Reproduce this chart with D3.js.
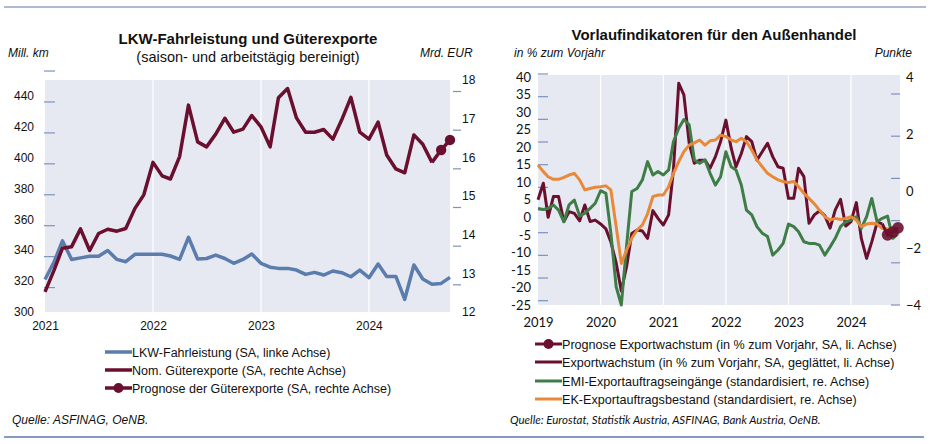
<!DOCTYPE html>
<html><head><meta charset="utf-8">
<script src="https://cdn.jsdelivr.net/npm/d3@7"></script>
<style>
html,body{margin:0;padding:0;background:#fff;}
svg{display:block;}
</style></head>
<body>
<svg id="c" width="930" height="444"></svg>
<script>
// ---------- Left chart data ----------
const leftStart = [2021, 0];           // Jan 2021, monthly
const leftYears = ["2021","2022","2023","2024"];
const leftTicksKm = [300,320,340,360,380,400,420,440];
const leftTicksEur = [12,13,14,15,16,17,18];
const truckKm = [321,332.5,346,334,335,336,336,339.7,334,332.5,337.3,337.3,337.3,337.3,336.2,334,348.3,334.2,334.6,336.8,334.6,331.5,334,337.5,331.5,329,328.2,328.2,327.1,324.3,325.6,323.9,326.5,325.4,322.8,327.1,322.2,331,323,323,308.2,330.4,321.3,317.9,318.5,322.4];
const goodsExports = [12.52,13.09,13.65,13.69,14.15,13.59,14.03,14.14,14.09,14.16,14.68,15.03,15.87,15.52,15.44,16.02,17.35,16.40,16.27,16.60,17.01,16.65,16.73,17.08,16.79,16.27,17.54,17.78,17.02,16.65,16.65,16.72,16.47,16.97,17.55,16.65,16.47,16.91,16.06,15.70,15.60,16.58,16.34,15.87];
const goodsForecast = [16.19,16.45];   // Sep, Oct 2024
const leftLegend = ["LKW-Fahrleistung (SA, linke Achse)","Nom. Güterexporte (SA, rechte Achse)","Prognose der Güterexporte (SA, rechte Achse)"];

// ---------- Right chart data ----------
const rightStart = [2019, 0];          // Jan 2019, monthly
const rightYears = ["2019","2020","2021","2022","2023","2024"];
const rightTicksPct = [40,35,30,25,20,15,10,5,0,-5,-10,-15,-20,-25];
const rightTicksPts = [4,2,0,-2,-4];
const exportGrowth = [5,9.7,0,5.9,5.9,-1.2,1.6,1.1,-1.0,3.5,-1.2,-0.8,-1.9,-3.3,-7,-13,-21,-14,-4.6,-3.6,-3.9,-6,1.9,-0.3,-2.2,0.7,13.5,38.2,34.9,21.1,15.4,16.3,16.3,14,17.3,21.6,27.7,19.7,14.4,18.2,23,21.6,16.3,18.7,21.1,17.3,14.4,14.0,5.4,5.4,14,11.6,-1.7,0.7,1.8,0.5,-3.1,2.1,5.1,-2.5,-1.2,4.2,-6,-11.7,-7,-1.5,-1.8];
const exportForecast = [-5,-4.2,-3];   // Aug–Oct 2024
const emiOrders = [-0.61,-0.65,-0.61,-0.49,-0.67,-1.08,-0.49,-0.32,-0.88,-0.78,-0.61,-0.43,0.01,-0.08,-1.48,-3.36,-4.0,-1.9,-0.02,0.09,0.39,1.03,0.56,0.68,0.56,0.74,1.73,2.20,2.51,2.32,1.09,0.97,1.09,0.62,0.21,0.5,1.38,0.85,0.74,0.21,-0.67,-0.84,-1.25,-1.48,-1.6,-2.25,-2.07,-1.84,-1.16,-1.25,-1.43,-1.78,-1.84,-1.84,-1.9,-2.25,-1.96,-1.66,-1.25,-1.08,-1.02,-0.9,-1.31,-0.9,-0.26,-1.08,-0.96,-0.88,-1.66,-1.5];
const ekOrders = [0.91,0.68,0.50,0.41,0.41,0.48,0.56,0.62,0.39,0.04,0.09,0.13,0.15,0.18,0.04,-1.25,-2.54,-2.07,-1.66,-1.37,-1.19,-0.8,-0.20,-0.14,-0.14,0.15,0.62,1.03,1.38,1.61,1.69,1.79,1.61,1.76,1.79,1.96,1.91,1.79,1.73,1.85,1.73,1.44,1.09,0.85,0.62,0.50,0.39,0.33,0.30,0.33,0.15,-0.08,-0.26,-0.45,-0.67,-0.90,-1.02,-0.96,-1.0,-0.96,-0.90,-1.02,-1.25,-1.16,-1.13,-1.16,-1.31,-1.33,-1.43,-1.51];
const rightLegend = ["Prognose Exportwachstum (in % zum Vorjahr, SA, li. Achse)","Exportwachstum (in % zum Vorjahr, SA, geglättet, li. Achse)","EMI-Exportauftragseingänge (standardisiert, re. Achse)","EK-Exportauftragsbestand (standardisiert, re. Achse)"];

// ---------- Styles ----------
const C = {bg:"#E6E9F2", blue:"#5A7DAD", red:"#6B0F2E", green:"#3E7D46", orange:"#E8893A", dash:"#7D93BC", rule:"#5D79A6", text:"#111"};
const arial = "'Liberation Sans', Arial, sans-serif";
const cal = "Lato, 'Liberation Sans', sans-serif";

const svg = d3.select("#c");
const month = (start, i) => new Date(start[0], start[1] + i, 1);

// rules
svg.append("line").attr("x1",4).attr("x2",926).attr("y1",7).attr("y2",7).attr("stroke",C.rule).attr("stroke-width",1.2);
svg.append("line").attr("x1",4).attr("x2",924).attr("y1",437).attr("y2",437).attr("stroke",C.rule).attr("stroke-width",1.5);

// ================= LEFT CHART =================
{
  const L = {x0:45, x1:450, y0:80, y1:312};
  const x = d3.scaleTime().domain([month(leftStart,0), month(leftStart,45)]).range([L.x0, L.x1]);
  const yL = d3.scaleLinear().domain([300,450]).range([L.y1, L.y0]);
  const yR = d3.scaleLinear().domain([12,18]).range([L.y1, L.y0]);
  const g = svg.append("g");
  g.append("rect").attr("x",L.x0).attr("y",L.y0).attr("width",L.x1-L.x0).attr("height",L.y1-L.y0).attr("fill",C.bg);
  leftYears.slice(1).forEach(yr => {
    const xx = x(new Date(+yr,0,1));
    g.append("line").attr("x1",xx).attr("x2",xx).attr("y1",L.y0).attr("y2",L.y1).attr("stroke","#fff").attr("stroke-width",1.2);
  });
  g.append("text").attr("x",248).attr("y",44).attr("text-anchor","middle").attr("font-family",arial).attr("font-weight","bold").attr("font-size",15).attr("fill",C.text).text("LKW-Fahrleistung und Güterexporte");
  g.append("text").attr("x",248).attr("y",61.5).attr("text-anchor","middle").attr("font-family",arial).attr("font-size",14.5).attr("fill",C.text).text("(saison- und arbeitstägig bereinigt)");
  g.append("text").attr("x",8).attr("y",57).attr("font-family",arial).attr("font-style","italic").attr("font-size",12).attr("fill",C.text).text("Mill. km");
  g.append("text").attr("x",420).attr("y",57).attr("font-family",arial).attr("font-style","italic").attr("font-size",12).attr("fill",C.text).text("Mrd. EUR");
  const axL = d3.axisLeft(yL).tickValues(leftTicksKm).tickSize(0).tickPadding(0);
  const gl = g.append("g").attr("transform",`translate(34,0)`).call(axL);
  gl.select(".domain").remove();
  gl.selectAll("text").attr("font-family",arial).attr("font-size",12).attr("fill",C.text);
  const axR = d3.axisRight(yR).tickValues(leftTicksEur).tickFormat(d3.format("d")).tickSize(0).tickPadding(0);
  const gr = g.append("g").attr("transform",`translate(462,0)`).call(axR);
  gr.select(".domain").remove();
  gr.selectAll("text").attr("font-family",arial).attr("font-size",12).attr("fill",C.text);
  const axB = d3.axisBottom(x).tickValues(leftYears.map(y=>new Date(+y,0,1))).tickFormat(d3.timeFormat("%Y")).tickSize(0).tickPadding(0);
  const gb = g.append("g").attr("transform",`translate(0,${L.y1+18})`).call(axB);
  gb.select(".domain").remove();
  gb.selectAll("text").attr("font-family",arial).attr("font-size",12).attr("fill",C.text).attr("dy",0);
  d3.range(320,461,20).forEach(v => g.append("line").attr("x1",44).attr("x2",55).attr("y1",yL(v)+6.5).attr("y2",yL(v)+6.5).attr("stroke",C.dash).attr("stroke-width",1.2));
  leftTicksEur.slice(1).forEach(v => g.append("line").attr("x1",453).attr("x2",461).attr("y1",yR(v)+11.5).attr("y2",yR(v)+11.5).attr("stroke",C.dash).attr("stroke-width",1.2));
  const lineL = d3.line().x((d,i)=>x(month(leftStart,i))).y(d=>yL(d));
  g.append("path").datum(truckKm).attr("d",lineL).attr("fill","none").attr("stroke",C.blue).attr("stroke-width",3.5).attr("stroke-linejoin","round");
  const lineR = d3.line().x(d=>x(month(leftStart,d[0]))).y(d=>yR(d[1]));
  g.append("path").datum(goodsExports.map((v,i)=>[i,v])).attr("d",lineR).attr("fill","none").attr("stroke",C.red).attr("stroke-width",3.5).attr("stroke-linejoin","round");
  const n0 = goodsExports.length;
  const fc = [[n0-1, goodsExports[n0-1]]].concat(goodsForecast.map((v,k)=>[n0+k, v]));
  g.append("path").datum(fc).attr("d",lineR).attr("fill","none").attr("stroke",C.red).attr("stroke-width",3.5);
  fc.slice(1).forEach(d => g.append("circle").attr("cx",x(month(leftStart,d[0]))).attr("cy",yR(d[1])).attr("r",5.2).attr("fill",C.red));
  const ly = [352,370,388];
  const cols = [C.blue, C.red, C.red];
  leftLegend.forEach((t,k)=>{
    g.append("line").attr("x1",105).attr("x2",132).attr("y1",ly[k]).attr("y2",ly[k]).attr("stroke",cols[k]).attr("stroke-width",3.5);
    if(k===2) g.append("circle").attr("cx",118.5).attr("cy",ly[k]).attr("r",5).attr("fill",C.red);
    g.append("text").attr("x",132).attr("y",ly[k]+4.5).attr("font-family",arial).attr("font-size",12.5).attr("fill",C.text).text(t);
  });
  g.append("text").attr("x",12).attr("y",424).attr("font-family",arial).attr("font-style","italic").attr("font-size",12).attr("fill",C.text).text("Quelle: ASFINAG, OeNB.");
}

// ================= RIGHT CHART =================
{
  const R = {x0:538, x1:900, y0:77, y1:305};
  const x = d3.scaleTime().domain([month(rightStart,0), month(rightStart,69)]).range([R.x0, 898]);
  const yA = d3.scaleLinear().domain([-25,40]).range([R.y1, R.y0]);
  const yB = d3.scaleLinear().domain([-4,4]).range([R.y1, R.y0]);
  const g = svg.append("g");
  g.append("rect").attr("x",R.x0).attr("y",75).attr("width",R.x1-R.x0).attr("height",R.y1-75).attr("fill",C.bg);
  rightYears.slice(1).forEach(yr => {
    const xx = x(new Date(+yr,0,1));
    g.append("line").attr("x1",xx).attr("x2",xx).attr("y1",75).attr("y2",R.y1).attr("stroke","#fff").attr("stroke-width",1.2);
  });
  g.append("text").attr("x",714).attr("y",40).attr("text-anchor","middle").attr("font-family",arial).attr("font-weight","bold").attr("font-size",15).attr("fill",C.text).text("Vorlaufindikatoren für den Außenhandel");
  g.append("text").attr("x",514).attr("y",57).attr("font-family",arial).attr("font-style","italic").attr("font-size",12).attr("fill",C.text).text("in % zum Vorjahr");
  g.append("text").attr("x",912).attr("y",57).attr("text-anchor","end").attr("font-family",arial).attr("font-style","italic").attr("font-size",12).attr("fill",C.text).text("Punkte");
  const axA = d3.axisLeft(yA).tickValues(rightTicksPct).tickSize(0).tickPadding(0);
  const ga = g.append("g").attr("transform",`translate(531,0)`).call(axA);
  ga.select(".domain").remove();
  ga.selectAll("text").attr("font-family",cal).attr("font-size",13).attr("fill",C.text).text(d=>d);
  const axBr = d3.axisRight(yB).tickValues(rightTicksPts).tickSize(0).tickPadding(0);
  const gbr = g.append("g").attr("transform",`translate(906,0)`).call(axBr);
  gbr.select(".domain").remove();
  gbr.selectAll("text").attr("font-family",cal).attr("font-size",13).attr("fill",C.text);
  const axX = d3.axisBottom(x).tickValues(rightYears.map(y=>new Date(+y,0,1))).tickFormat(d3.timeFormat("%Y")).tickSize(0).tickPadding(0);
  const gx = g.append("g").attr("transform",`translate(0,${R.y1+12})`).call(axX);
  gx.select(".domain").remove();
  gx.selectAll("text").attr("font-family",cal).attr("font-size",13).attr("fill",C.text).attr("dy",0).attr("y",10);
  d3.range(11).forEach(k => { const yy = yA(40)-3 + k*(yA(-25)-yA(40)-1.3)/10;
    g.append("line").attr("x1",538).attr("x2",548).attr("y1",yy).attr("y2",yy).attr("stroke",C.dash).attr("stroke-width",1.2); });
  d3.range(6).forEach(k => { const yy = yB(4)+17 + k*(yB(-4)-yB(4)-17)/5;
    g.append("line").attr("x1",891).attr("x2",900).attr("y1",yy).attr("y2",yy).attr("stroke",C.dash).attr("stroke-width",1.2); });
  const lineB = d3.line().x((d,i)=>x(month(rightStart,i))).y(d=>yB(d));
  const lineA = d3.line().x(d=>x(month(rightStart,d[0]))).y(d=>yA(d[1]));
  g.append("path").datum(exportGrowth.map((v,i)=>[i,v])).attr("d",lineA).attr("fill","none").attr("stroke",C.red).attr("stroke-width",3).attr("stroke-linejoin","round");
  g.append("path").datum(emiOrders).attr("d",lineB).attr("fill","none").attr("stroke",C.green).attr("stroke-width",3).attr("stroke-linejoin","round");
  g.append("path").datum(ekOrders).attr("d",lineB).attr("fill","none").attr("stroke",C.orange).attr("stroke-width",3).attr("stroke-linejoin","round");
  const n0 = exportGrowth.length;
  const fc = [[n0-1, exportGrowth[n0-1]]].concat(exportForecast.map((v,k)=>[n0+k, v]));
  g.append("path").datum(fc).attr("d",lineA).attr("fill","none").attr("stroke",C.red).attr("stroke-width",3);
  fc.slice(1).forEach(d => g.append("circle").attr("cx",x(month(rightStart,d[0]))).attr("cy",yA(d[1])).attr("r",5.8).attr("fill",C.red).attr("fill-opacity",0.9));
  const ly = [344,362,381,399];
  const cols = [C.red, C.red, C.green, C.orange];
  rightLegend.forEach((t,k)=>{
    g.append("line").attr("x1",535).attr("x2",562).attr("y1",ly[k]).attr("y2",ly[k]).attr("stroke",cols[k]).attr("stroke-width",3);
    if(k===0) g.append("circle").attr("cx",548.5).attr("cy",ly[k]).attr("r",5).attr("fill",C.red);
    g.append("text").attr("x",562).attr("y",ly[k]+4.5).attr("font-family",arial).attr("font-size",12.6).attr("fill",C.text).text(t);
  });
  g.append("text").attr("x",510).attr("y",424).attr("font-family",cal).attr("font-style","italic").attr("font-size",11.5).attr("fill",C.text).text("Quelle: Eurostat, Statistik Austria, ASFINAG, Bank Austria, OeNB.");
}
</script>
</body></html>
